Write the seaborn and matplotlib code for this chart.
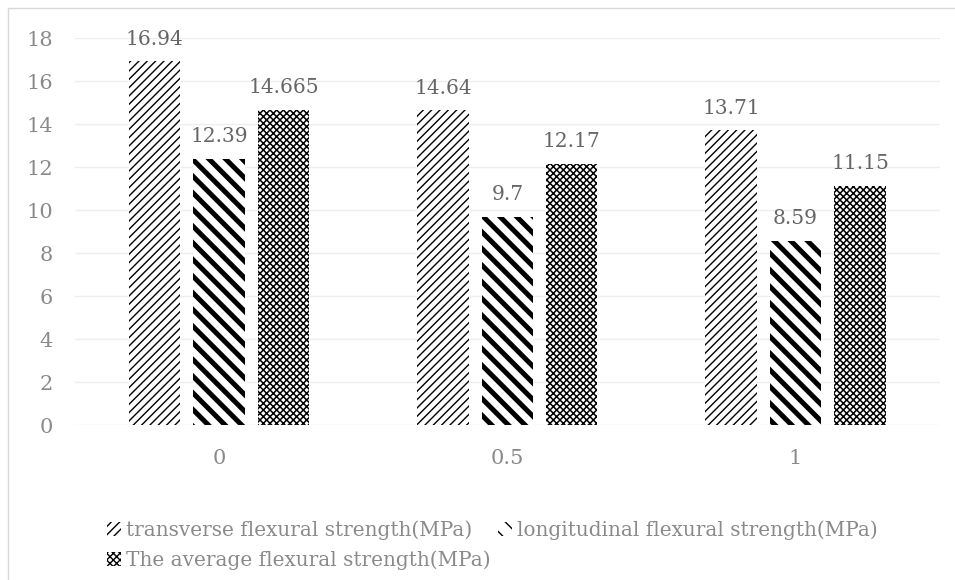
import pandas as pd
import matplotlib
matplotlib.use('Agg')
import matplotlib.pyplot as plt
import seaborn as sns
from matplotlib.patches import Rectangle, Patch

# data
categories = ['0', '0.5', '1']
transverse = [16.94, 14.64, 13.71]
longitudinal = [12.39, 9.7, 8.59]
average = [14.665, 12.17, 11.15]
series_names = ['transverse flexural strength(MPa)',
                'longitudinal flexural strength(MPa)',
                'The average flexural strength(MPa)']
value_labels = [['16.94', '14.64', '13.71'],
                ['12.39', '9.7', '8.59'],
                ['14.665', '12.17', '11.15']]

df = pd.DataFrame({
    'content': categories * 3,
    'value': transverse + longitudinal + average,
    'series': [s for s in series_names for _ in categories],
})

sns.set_style('white')
plt.rcParams['font.family'] = ['DejaVu Serif', 'Liberation Serif']

hatches = ['/' * 4, '\\' * 2, 'x' * 5]
hatch_widths = [1.0, 3.6, 1.1]

fig = plt.figure(figsize=(9.55, 5.8), dpi=100)
ax = fig.add_axes([0.0785, 0.267, 0.9055, 0.667])

sns.barplot(data=df, x='content', y='value', hue='series', order=categories,
            hue_order=series_names, width=0.67, gap=0.2, ax=ax,
            palette=['white'] * 3, edgecolor='black', linewidth=0,
            legend=False)

for i, cont in enumerate(ax.containers):
    for p in cont:
        p.set_hatch(hatches[i])
        if hasattr(p, 'set_hatch_linewidth'):
            p.set_hatch_linewidth(hatch_widths[i])
    ax.bar_label(cont, labels=value_labels[i], padding=9,
                 fontsize=14.5, color='#666666')

ax.set_xlim(-0.5, 2.5)
ax.set_ylim(0, 18)
ax.set_yticks(range(0, 19, 2))
ax.grid(axis='y', color='#eeeeee', linewidth=1)
ax.set_axisbelow(True)
sns.despine(ax=ax, left=True, bottom=True)
ax.set_xlabel('')
ax.set_ylabel('')
ax.tick_params(axis='both', length=0, labelsize=15, colors='#8a8a8a')
ax.tick_params(axis='y', pad=16)
ax.tick_params(axis='x', pad=17)

handles = []
for i in range(3):
    h = Patch(facecolor='white', edgecolor='black', linewidth=0,
              hatch=hatches[i], label=series_names[i])
    if hasattr(h, 'set_hatch_linewidth'):
        h.set_hatch_linewidth(hatch_widths[i])
    handles.append(h)
order = [0, 2, 1]
leg = fig.legend([handles[k] for k in order], [series_names[k] for k in order],
                 ncol=2, loc='upper left', bbox_to_anchor=(0.112, 0.103),
                 frameon=False, fontsize=14.4, handlelength=0.7,
                 handleheight=0.7, handletextpad=0.25, columnspacing=0.35,
                 labelspacing=0.52, borderaxespad=0, borderpad=0)
for t in leg.get_texts():
    t.set_color('#8a8a8a')

fig.patches.append(Rectangle((8 / 955, -0.1), 1.1, 1 - 8 / 580 + 0.1,
                             transform=fig.transFigure, fill=False,
                             edgecolor='#d9d9d9', linewidth=1))

fig.savefig('out.png', dpi=100)
